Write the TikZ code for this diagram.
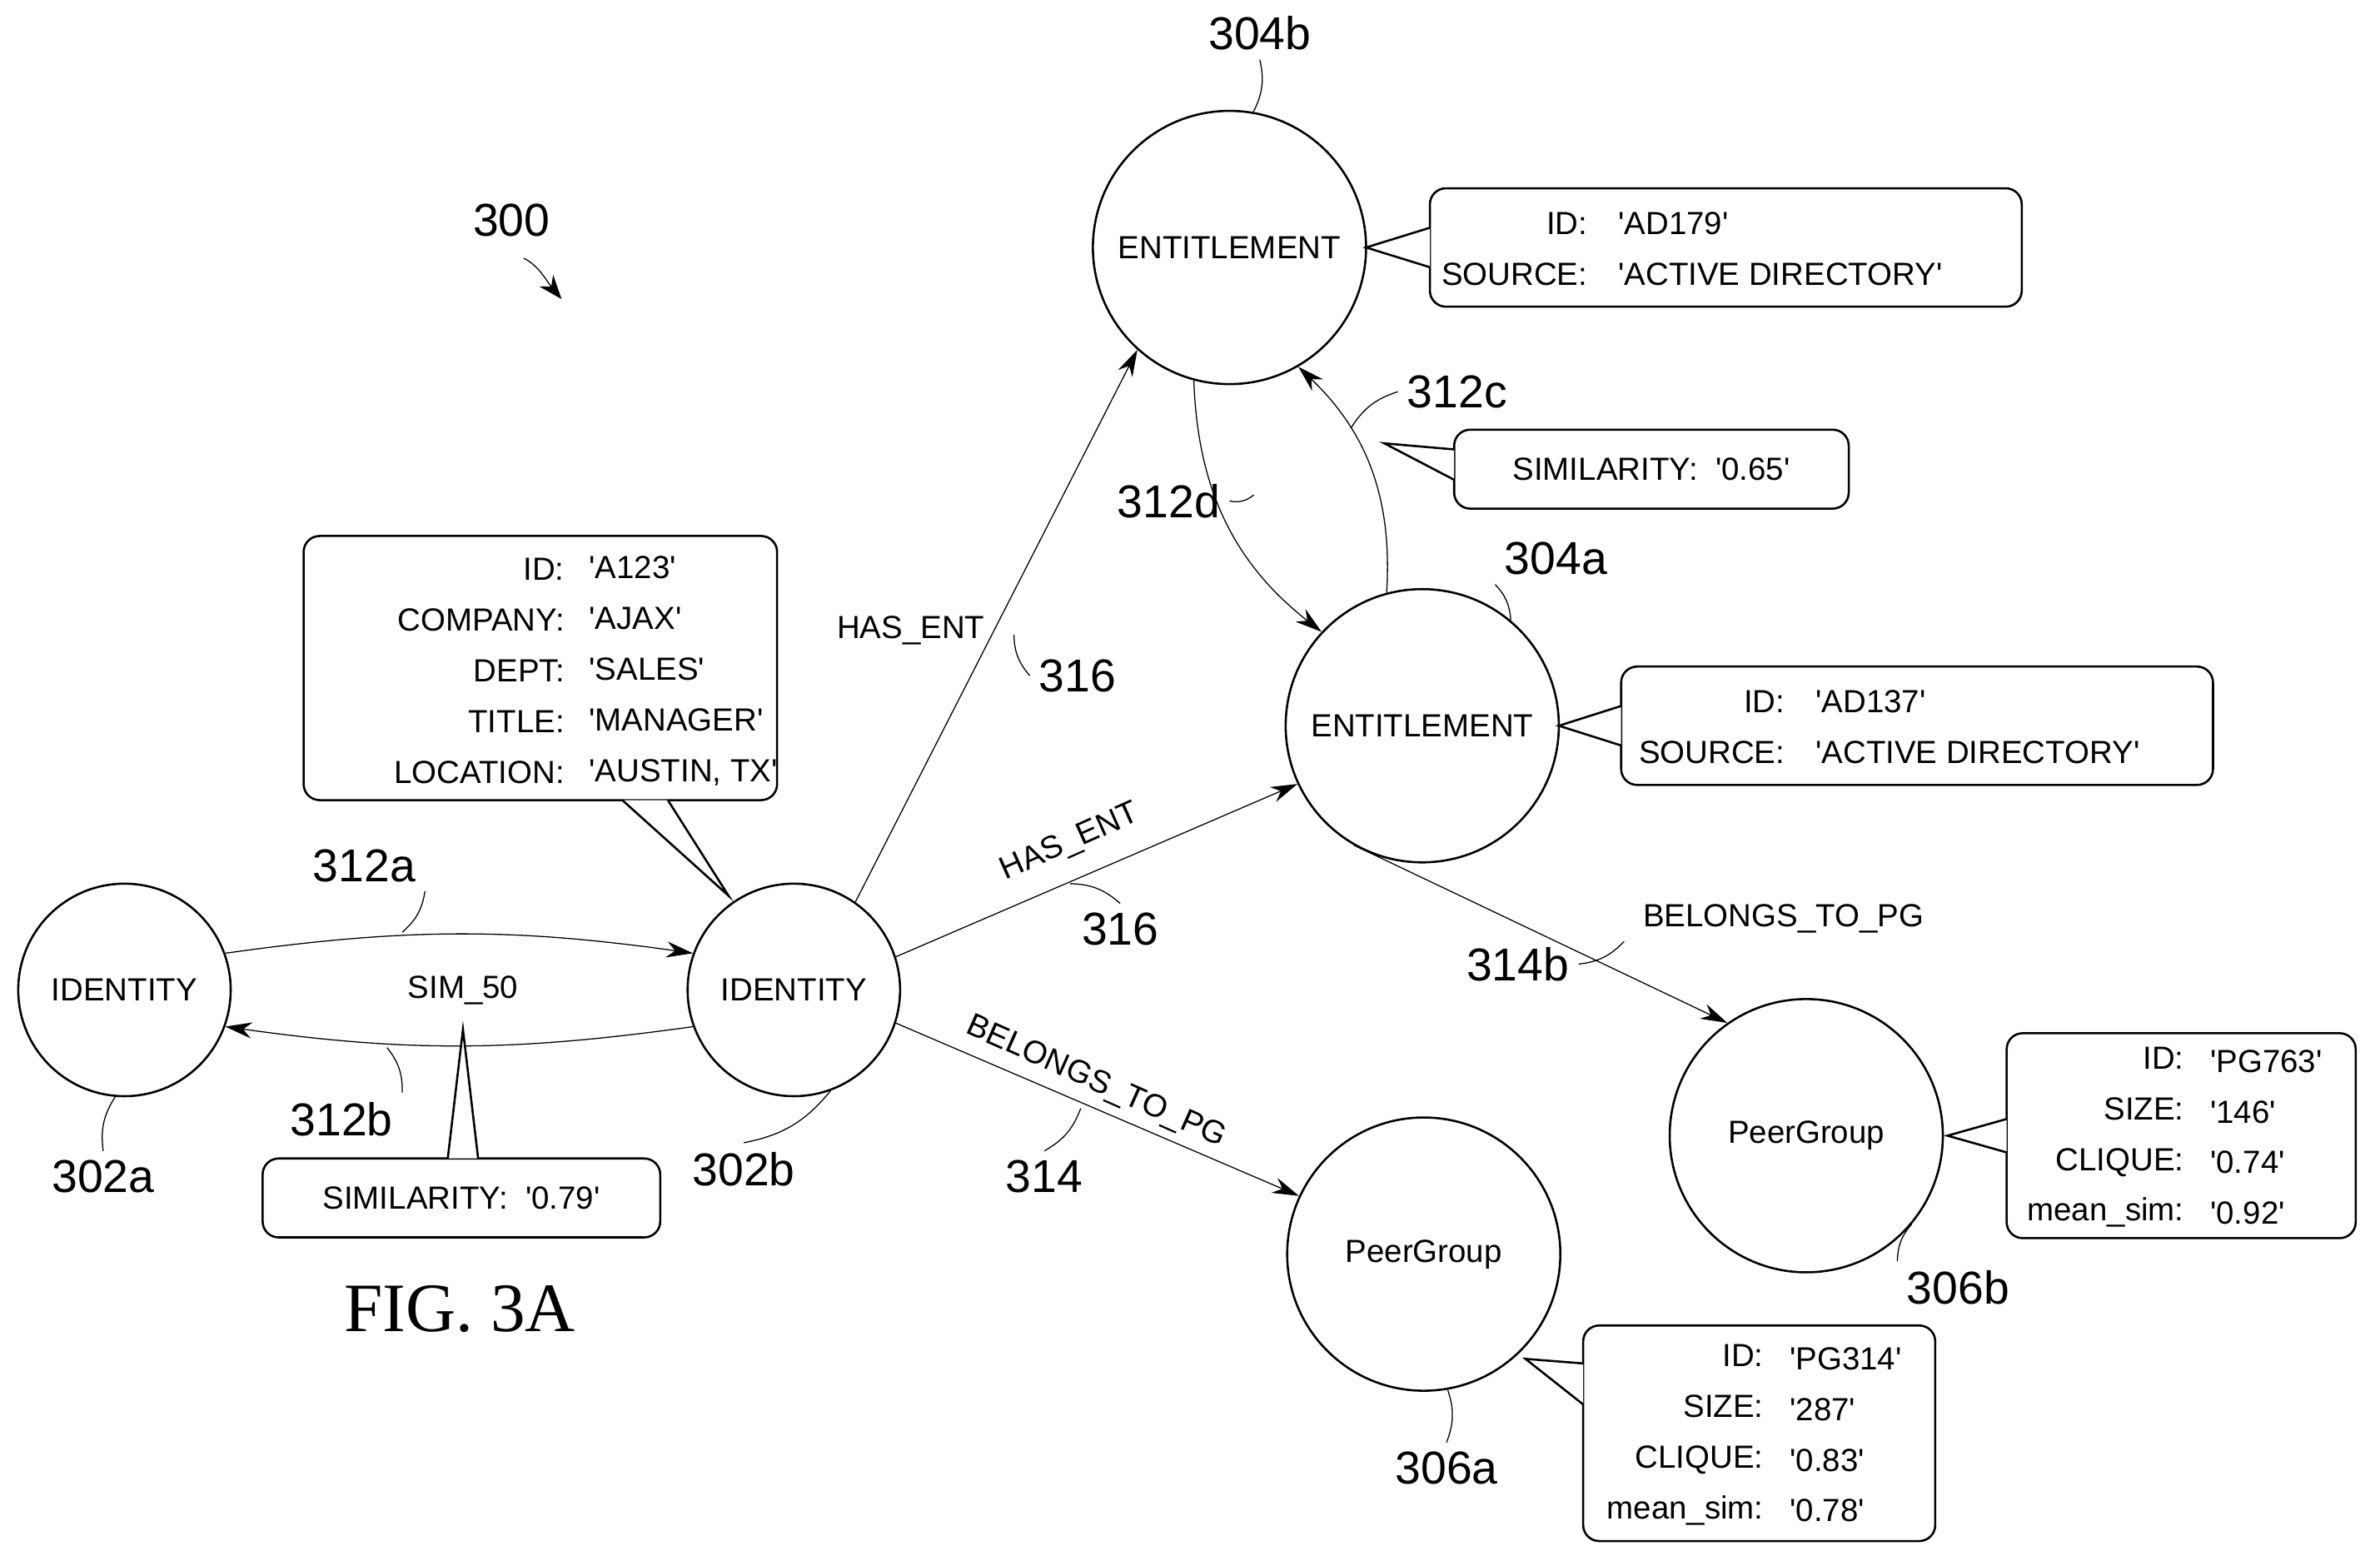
\documentclass[tikz,border=0pt]{standalone}
\usepackage{fontspec}
\setmainfont{Liberation Sans}
\newfontfamily\figfont{Liberation Serif}
\usetikzlibrary{arrows.meta}
\newcommand{\sq}[1]{\textquotesingle#1\textquotesingle}

\tikzset{
  ent/.style = {draw, thick, circle, minimum size = 3.6cm, inner sep = 0pt, font = \large},
  idt/.style = {draw, thick, circle, minimum size = 2.8cm, inner sep = 0pt, font = \large},
  info/.style = {draw, thick, rounded corners = 6pt, fill = white, font = \large, inner sep = 0pt},
  wedge/.style = {draw, thick, fill = white},
  txt/.style = {font = \large},
  lbl/.style = {font = \LARGE},
  tick/.style = {thin},
  edge/.style = {thin, -{Stealth[length = 10pt, width = 6pt]}},
}

\begin{document}
\begin{tikzpicture}[x = 0.02cm, y = -0.02cm]
\useasboundingbox (0, 0) rectangle (1568, 1028);

% nodes
\node[idt] (id1) at (82, 652) {IDENTITY};
\node[idt] (id2) at (523, 652) {IDENTITY};
\node[ent] (ent2) at (810, 163) {ENTITLEMENT};
\node[ent] (ent1) at (937, 478) {ENTITLEMENT};
\node[ent] (pg1) at (938, 826) {PeerGroup};
\node[ent] (pg2) at (1190, 748) {PeerGroup};

% connectors
\draw[edge] (id1.20) to[bend left = 8] (id2.160);
\draw[edge] (id2.200) to[bend left = 8] (id1.-20);
\node[txt] (sim) at (305, 652) {SIM\_50};
\draw[edge] (id2.55) -- (ent2.228);
\draw[edge] (id2.18) -- (ent1.205);
\draw[edge] (id2.-18) -- (pg1.155);
\draw[edge] (ent1.240) -- (pg2.125);
\draw[edge] (ent2.-105) to[bend right = 25] (ent1.137);
\draw[edge] (ent1.105) to[bend right = 25] (ent2.-60);

\node[txt] (he1) at (600, 415) {HAS\_ENT};
\node[txt, rotate = 24] (he2) at (705, 555) {HAS\_ENT};
\node[txt, rotate = -24] (bp1) at (722, 713) {BELONGS\_TO\_PG};
\node[txt] (bp2) at (1175, 605) {BELONGS\_TO\_PG};

% callouts
\node[info, minimum width = 6.24cm, minimum height = 3.48cm] (b1) at (356, 440) {};
\node[txt, align = right, anchor = east] at (378, 442) {ID:\\[5pt]COMPANY:\\[5pt]DEPT:\\[5pt]TITLE:\\[5pt]LOCATION:};
\node[txt, align = left, anchor = west] at (382, 442) {\sq{A123}\\[5pt]\sq{AJAX}\\[5pt]\sq{SALES}\\[5pt]\sq{MANAGER}\\[5pt]\sq{AUSTIN, TX}};
\draw[wedge] (410, 527) -- (480, 590) -- (440, 527);

\node[info, minimum width = 5.24cm, minimum height = 1.04cm] (b2) at (304, 789) {SIMILARITY:\ \ \sq{0.79}};
\draw[wedge] (295, 763) -- (305, 678) -- (315, 763);

\node[info, minimum width = 7.8cm, minimum height = 1.56cm] (b3) at (1137, 163) {};
\node[txt, align = right, anchor = east] at (1052, 164) {ID:\\[5pt]SOURCE:};
\node[txt, align = left, anchor = west] at (1060, 164) {\sq{AD179}\\[5pt]\sq{ACTIVE DIRECTORY}};
\draw[wedge] (942, 150) -- (900, 163) -- (942, 176);

\node[info, minimum width = 5.2cm, minimum height = 1.04cm] (b4) at (1088, 309) {SIMILARITY:\ \ \sq{0.65}};
\draw[wedge] (958, 296) -- (912, 292) -- (958, 316);

\node[info, minimum width = 7.8cm, minimum height = 1.56cm] (b5) at (1263, 478) {};
\node[txt, align = right, anchor = east] at (1182, 479) {ID:\\[5pt]SOURCE:};
\node[txt, align = left, anchor = west] at (1190, 479) {\sq{AD137}\\[5pt]\sq{ACTIVE DIRECTORY}};
\draw[wedge] (1068, 465) -- (1027, 478) -- (1068, 491);

\node[info, minimum width = 4.6cm, minimum height = 2.7cm] (b6) at (1437, 748) {};
\node[txt, align = right, anchor = east] at (1445, 749) {ID:\\[5pt]SIZE:\\[5pt]CLIQUE:\\[5pt]mean\_sim:};
\node[txt, align = left, anchor = west] at (1450, 749) {\sq{PG763}\\[5pt]\sq{146}\\[5pt]\sq{0.74}\\[5pt]\sq{0.92}};
\draw[wedge] (1322, 737) -- (1283, 748) -- (1322, 759);

\node[info, minimum width = 4.64cm, minimum height = 2.84cm] (b7) at (1159, 944) {};
\node[txt, align = right, anchor = east] at (1168, 945) {ID:\\[5pt]SIZE:\\[5pt]CLIQUE:\\[5pt]mean\_sim:};
\node[txt, align = left, anchor = west] at (1173, 945) {\sq{PG314}\\[5pt]\sq{287}\\[5pt]\sq{0.83}\\[5pt]\sq{0.78}};
\draw[wedge] (1043, 898) -- (1005, 895) -- (1043, 925);

% reference labels
\node[lbl] (l300) at (337, 145) {300};
\coordinate (c300) at (370, 197);
\draw[-{Stealth[length = 9pt]}] (345, 170) .. controls (355, 175) and (360, 185) .. (c300);
\node[lbl] (l302a) at (68, 775) {302a};
\draw[tick] (l302a.north) to[bend left = 20] (id1.-95);
\node[lbl] (l302b) at (490, 770) {302b};
\draw[tick] (l302b.north) to[bend right = 20] (id2.-70);
\node[lbl] (l304b) at (830, 22) {304b};
\draw[tick] (l304b.south) to[bend left = 20] (ent2.80);
\node[lbl] (l304a) at (1025, 368) {304a};
\draw[tick] (l304a.south west) to[bend left = 20] (ent1.50);
\node[lbl] (l306a) at (953, 967) {306a};
\draw[tick] (l306a.north) to[bend right = 20] (pg1.-80);
\node[lbl] (l306b) at (1290, 848) {306b};
\draw[tick] (l306b.north west) to[bend left = 20] (pg2.-40);
\node[lbl] (l312a) at (240, 570) {312a};
\draw[tick] (l312a.south east) to[bend left = 20] (265, 614);
\node[lbl] (l312b) at (225, 737) {312b};
\draw[tick] (l312b.north east) to[bend right = 20] (255, 690);
\node[lbl] (l312c) at (960, 258) {312c};
\draw[tick] (l312c.west) to[bend right = 20] (890, 282);
\node[lbl] (l312d) at (770, 330) {312d};
\draw[tick] (l312d.east) to[bend right = 25] (826, 326);
\node[lbl] (l316a) at (710, 445) {316};
\draw[tick] (l316a.west) to[bend left = 20] (668, 418);
\node[lbl] (l316b) at (738, 612) {316};
\draw[tick] (l316b.north) to[bend right = 20] (705, 582);
\node[lbl] (l314) at (688, 775) {314};
\draw[tick] (l314.north) to[bend right = 20] (712, 730);
\node[lbl] (l314b) at (1000, 635) {314b};
\draw[tick] (l314b.east) to[bend right = 20] (1070, 620);

\node[font = \figfont\fontsize{26}{30}\selectfont] (fig) at (303, 862) {FIG. 3A};
\end{tikzpicture}
\end{document}
